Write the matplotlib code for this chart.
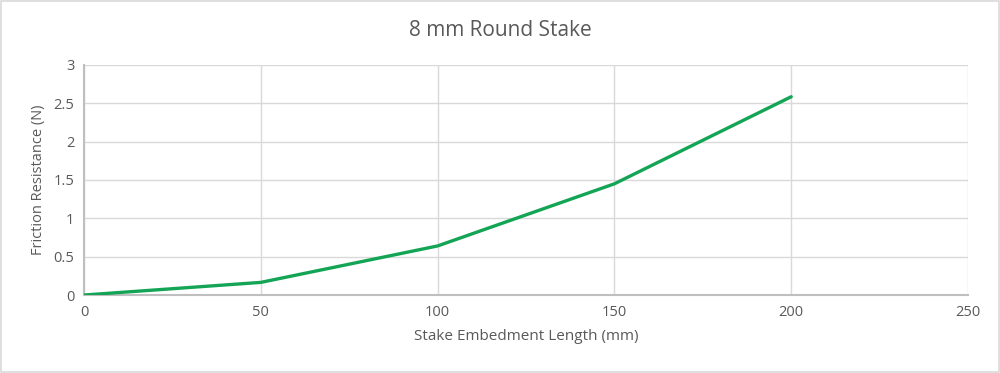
import matplotlib.pyplot as plt
from matplotlib.patches import Rectangle

# Data
embed_len = [0, 50, 100, 150, 200]
friction = [0.0, 0.165, 0.64, 1.45, 2.585]

x_ticks = [0, 50, 100, 150, 200, 250]
y_ticks = [0, 0.5, 1, 1.5, 2, 2.5, 3]
y_labels = ["0", "0.5", "1", "1.5", "2", "2.5", "3"]

TEXT = "#595959"
GRID = "#d9d9d9"

plt.rcParams["font.family"] = ["Open Sans", "DejaVu Sans"]

fig = plt.figure(figsize=(10, 3.73), dpi=100)
ax = fig.add_axes([0.084, 0.209, 0.884, 0.617])

ax.plot(embed_len, friction, color="#13a555", linewidth=2.4, solid_capstyle="round", zorder=3)

ax.set_xlim(0, 250)
ax.set_ylim(0, 3)
ax.set_xticks(x_ticks)
ax.set_yticks(y_ticks)
ax.set_yticklabels(y_labels)
ax.grid(True, color=GRID, linewidth=1)
ax.set_axisbelow(True)

for side in ["top", "right"]:
    ax.spines[side].set_visible(False)
for side in ["left", "bottom"]:
    ax.spines[side].set_color("#bfbfbf")
    ax.spines[side].set_linewidth(1.5)

ax.tick_params(length=0, labelsize=10.5, colors=TEXT, pad=7)
ax.set_xlabel("Stake Embedment Length (mm)", fontsize=11, color=TEXT, labelpad=7)
ax.set_ylabel("Friction Resistance (N)", fontsize=10.5, color=TEXT, labelpad=5)

fig.text(0.5, 0.917, "8 mm Round Stake", ha="center", va="center", fontsize=15, color=TEXT)

# light border around the chart area
fig.patches.append(Rectangle((0.001, 0.002), 0.998, 0.996, transform=fig.transFigure,
                             fill=False, edgecolor="#d9d9d9", linewidth=1.2))

fig.savefig("out.png", dpi=100)
